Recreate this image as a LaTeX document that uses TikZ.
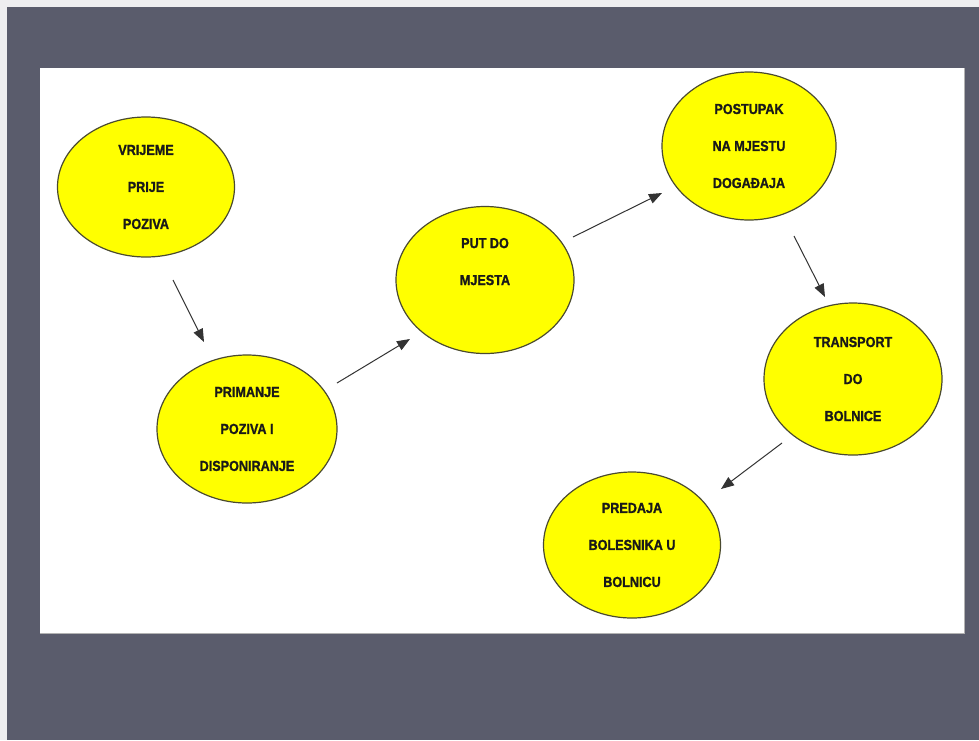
\documentclass[tikz,border=0pt]{standalone}
\usepackage{fontspec}
\usetikzlibrary{arrows.meta,shapes.geometric}
\newfontfamily\lblfont[FakeStretch=0.87,FakeBold=1.2]{Liberation Sans}
\definecolor{bgdark}{HTML}{5A5C6C}
\definecolor{edgelight}{HTML}{EEEEF0}
\definecolor{ovalfill}{HTML}{FFFF00}
\definecolor{ovaledge}{HTML}{4A4A30}
\tikzset{
  oval/.style={ellipse, draw=ovaledge, line width=1.2pt, fill=ovalfill, inner sep=0pt},
  lbl/.style={align=center, font=\lblfont\bfseries\fontsize{14.5}{37}\selectfont, text=black!90},
  flow/.style={draw=black!80, line width=1pt, -{Triangle[length=13pt,width=10pt]}}
}
\begin{document}
\begin{tikzpicture}[x=1pt,y=-1pt]
\useasboundingbox (0,0) rectangle (979,740);
\fill[edgelight] (0,0) rectangle (979,740);
\fill[bgdark] (7,7) rectangle (979,740);
\fill[white] (40,68) rectangle (964,633);
\draw[black!30, line width=1pt] (40,633) -- (964,633) -- (964,68);

\node[oval, minimum width=177pt, minimum height=140pt] (e1) at (146,187) {};
\node[oval, minimum width=180pt, minimum height=148pt] (e2) at (247,429) {};
\node[oval, minimum width=178pt, minimum height=147pt] (e3) at (485,280) {};
\node[oval, minimum width=174pt, minimum height=148pt] (e4) at (749,146) {};
\node[oval, minimum width=178pt, minimum height=152pt] (e5) at (853,379) {};
\node[oval, minimum width=177pt, minimum height=146pt] (e6) at (632,545) {};

\node[lbl] (t1) at (e1) {VRIJEME\\PRIJE\\POZIVA};
\node[lbl] (t2) at (e2) {PRIMANJE\\POZIVA I\\DISPONIRANJE};
\node[lbl] (t3) at (e3) {PUT DO\\MJESTA\\\mbox{}};
\node[lbl] (t4) at (e4) {POSTUPAK\\NA MJESTU\\DOGAĐAJA};
\node[lbl] (t5) at (e5) {TRANSPORT\\DO\\BOLNICE};
\node[lbl] (t6) at (e6) {PREDAJA\\BOLESNIKA U\\BOLNICU};

\coordinate (a1s) at (173,280);
\coordinate (a1e) at (204,342);
\coordinate (a2s) at (337,383);
\coordinate (a2e) at (410,339);
\coordinate (a3s) at (573,237);
\coordinate (a3e) at (662,193);
\coordinate (a4s) at (794,236);
\coordinate (a4e) at (825,297);
\coordinate (a5s) at (782,443);
\coordinate (a5e) at (721,489);

\draw[flow] (a1s) -- (a1e);
\draw[flow] (a2s) -- (a2e);
\draw[flow] (a3s) -- (a3e);
\draw[flow] (a4s) -- (a4e);
\draw[flow] (a5s) -- (a5e);
\end{tikzpicture}
\end{document}
